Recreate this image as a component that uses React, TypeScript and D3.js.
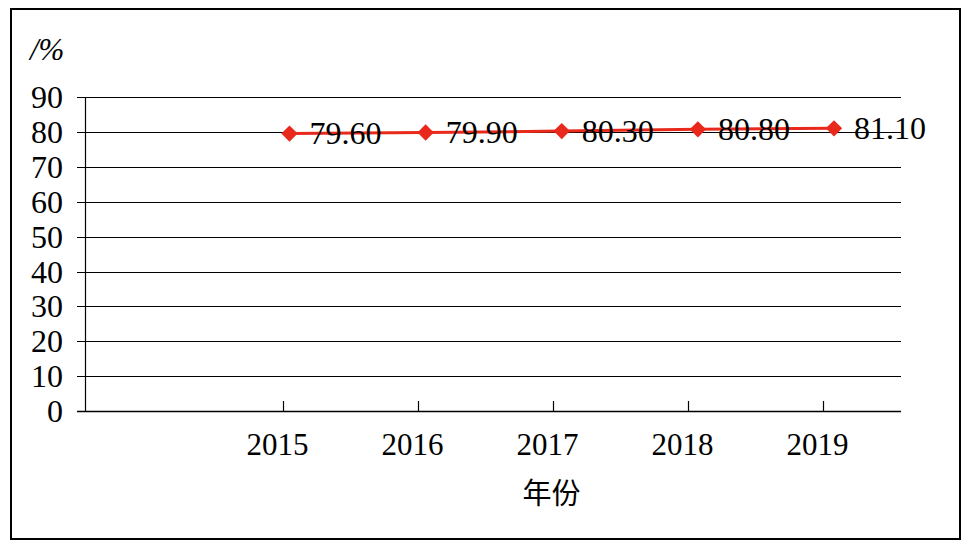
import React from "react";
import * as d3 from "d3";

const years = ["2015", "2016", "2017", "2018", "2019"];
const values = [79.6, 79.9, 80.3, 80.8, 81.1];
const yTicks = [0, 10, 20, 30, 40, 50, 60, 70, 80, 90];

const W = 973;
const H = 548;

export default function App() {
  const y = d3.scaleLinear().domain([0, 90]).range([411, 97.3]);
  const idx = d3.range(years.length);
  // tick marks, point positions and labels are slightly offset in the source
  const xTick = d3.scaleLinear().domain([0, 4]).range([283, 823]);
  const xPoint = d3.scaleLinear().domain([0, 4]).range([289.5, 834]);
  const xLabel = d3.scaleLinear().domain([0, 4]).range([277.5, 817.5]);
  const fmt = d3.format(".2f");
  const line = d3
    .line<number>()
    .x((i) => xPoint(i))
    .y((i) => y(values[i]));
  const serif = "'Liberation Serif', 'Times New Roman', serif";
  const diamond = d3.symbol().type(d3.symbolDiamond2).size(170)();

  return (
    <svg
      width={W}
      height={H}
      style={{ position: "absolute", left: 0, top: 0, background: "#fff" }}
    >
      <rect x={0} y={0} width={W} height={H} fill="#fff" />
      <rect x={11} y={9} width={949} height={530} fill="none" stroke="#000" strokeWidth={2} />
      <text x={30} y={60} fontFamily={serif} fontStyle="italic" fontSize={31} fill="#000">
        /%
      </text>
      {yTicks.map((t) => (
        <g key={t}>
          <line
            x1={77}
            x2={901}
            y1={Math.round(y(t)) + 0.5}
            y2={Math.round(y(t)) + 0.5}
            stroke="#000"
            strokeWidth={t === 0 ? 1.6 : 1.2}
          />
          <text
            x={63}
            y={y(t) + 11}
            textAnchor="end"
            fontFamily={serif}
            fontSize={32}
            fill="#000"
          >
            {t}
          </text>
        </g>
      ))}
      <line x1={85.5} x2={85.5} y1={y(90)} y2={y(0)} stroke="#000" strokeWidth={1.2} />
      {idx.map((i) => (
        <g key={years[i]}>
          <line
            x1={Math.round(xTick(i)) + 0.5}
            x2={Math.round(xTick(i)) + 0.5}
            y1={y(0)}
            y2={y(0) - 10}
            stroke="#000"
            strokeWidth={1.2}
          />
          <text
            x={xLabel(i)}
            y={455}
            textAnchor="middle"
            fontFamily={serif}
            fontSize={31}
            fill="#000"
          >
            {years[i]}
          </text>
        </g>
      ))}
      <path d={line(idx) || ""} fill="none" stroke="#e8291c" strokeWidth={3} />
      {idx.map((i) => (
        <path
          key={"p" + i}
          d={diamond || ""}
          transform={`translate(${xPoint(i)},${y(values[i])})`}
          fill="#e8291c"
        />
      ))}
      {idx.map((i) => (
        <text
          key={"l" + i}
          x={xPoint(i) + 20}
          y={y(values[i]) + 10.5}
          fontFamily={serif}
          fontSize={32}
          fill="#000"
        >
          {fmt(values[i])}
        </text>
      ))}
      <text
        x={551.5}
        y={504}
        textAnchor="middle"
        fontFamily="'Noto Sans CJK SC', sans-serif"
        fontSize={29}
        fill="#000"
      >
        年份
      </text>
    </svg>
  );
}
